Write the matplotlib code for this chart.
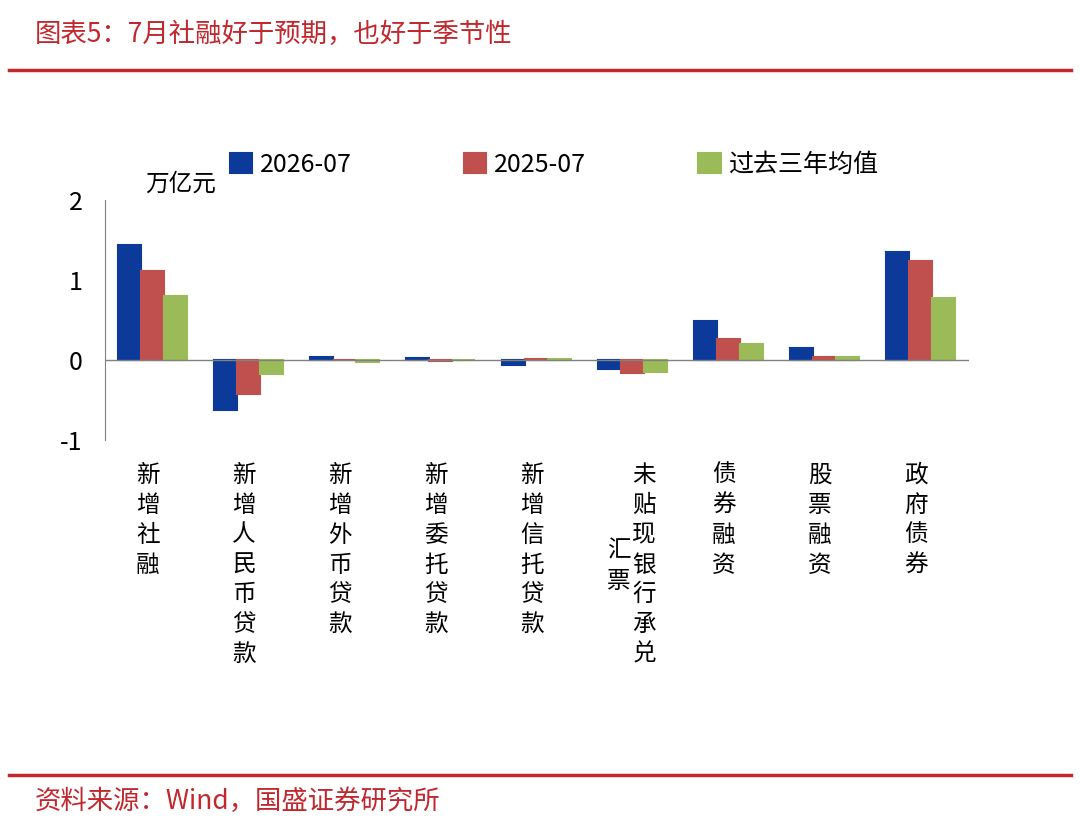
import numpy as np
import matplotlib.pyplot as plt

plt.rcParams['font.family'] = ['Noto Sans CJK SC', 'DejaVu Sans']
plt.rcParams['axes.unicode_minus'] = False

categories = ['新增社融', '新增人民币贷款', '新增外币贷款', '新增委托贷款', '新增信托贷款',
              '未贴现银行承兑汇票', '债券融资', '股票融资', '政府债券']
data = {
    '2026-07': [1.44, -0.63, 0.04, 0.03, -0.06, -0.11, 0.49, 0.15, 1.35],
    '2025-07': [1.11, -0.43, 0.00, -0.01, 0.01, -0.16, 0.27, 0.04, 1.24],
    '过去三年均值': [0.80, -0.17, -0.03, 0.00, 0.01, -0.15, 0.20, 0.04, 0.78],
}
colors = ['#0B3A9A', '#C0504D', '#9BBB59']

fig = plt.figure(figsize=(10.8, 8.24), dpi=100)
ax = fig.add_axes([0.097, 0.466, 0.8, 0.291])
x = np.arange(len(categories))
w = 0.24
for i, (name, vals) in enumerate(data.items()):
    ax.bar(x + (i - 1) * w, vals, w, color=colors[i], edgecolor=colors[i], lw=1.5, label=name)

ax.set_xlim(-0.5, len(categories) - 0.5)
ax.set_ylim(-1, 2)
ax.set_yticks([-1, 0, 1, 2])
ax.tick_params(axis='y', labelsize=18, length=0, pad=16)
ax.set_xticks([])
for s in ['top', 'right', 'bottom']:
    ax.spines[s].set_visible(False)
ax.spines['left'].set_color('#808080')
ax.axhline(0, color='#808080', lw=1)
ax.text(-0.08, 2.12, '万亿元', fontsize=17, transform=ax.transData)

# vertical category labels
for i, c in enumerate(categories):
    if c == '未贴现银行承兑汇票':
        ax.text(i + 0.12, -1.3, '\n'.join('未贴现银行承兑'), ha='center', va='top',
                fontsize=17, linespacing=1.38)
        ax.text(i - 0.15, -2.25, '\n'.join('汇票'), ha='center', va='top',
                fontsize=17, linespacing=1.38)
    else:
        ax.text(i - 0.05, -1.3, '\n'.join(c), ha='center', va='top',
                fontsize=17, linespacing=1.38)

ax.legend(loc='lower center', bbox_to_anchor=(0.52, 1.0), ncol=3, frameon=False,
          fontsize=18, handlelength=0.9, handleheight=0.9, handletextpad=0.3,
          columnspacing=4.5)

fig.text(0.032, 0.958, '图表5：7月社融好于预期，也好于季节性', color='#C0282D',
         fontsize=19, style='italic', va='center')
fig.add_artist(plt.Line2D([0.008, 0.992], [0.915, 0.915], color='#C0282D', lw=2.5))
fig.add_artist(plt.Line2D([0.008, 0.992], [0.059, 0.059], color='#C0282D', lw=2.5))
fig.text(0.032, 0.027, '资料来源：Wind，国盛证券研究所', color='#C0282D',
         fontsize=19, style='italic', va='center')

fig.savefig('out.png', dpi=100)
plt.close()
